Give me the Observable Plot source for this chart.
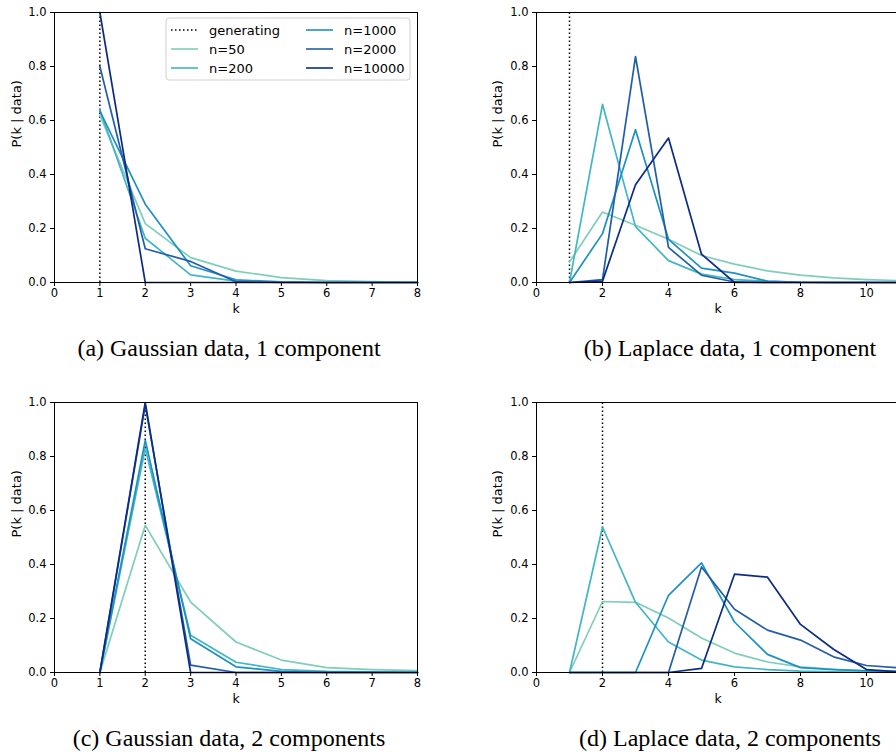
<!DOCTYPE html>
<html><head><meta charset="utf-8">
<script src="https://cdn.jsdelivr.net/npm/d3@7"></script>
<script src="https://cdn.jsdelivr.net/npm/@observablehq/plot@0.6"></script>
<style>
body{margin:0;background:#fff;}
#root{position:relative;width:896px;height:752px;overflow:hidden;background:#fff;}
.panel{position:absolute;}
.caption{position:absolute;font-family:"Liberation Serif","Times New Roman",serif;font-size:24px;line-height:24px;color:#000;white-space:nowrap;transform:translateX(-50%);}
.legend{position:absolute;}
</style></head><body><div id="root"></div><script>
const seriesNames = ["n=50", "n=200", "n=1000", "n=2000", "n=10000"];
const seriesColors = ["#7fcdbb", "#41b6c4", "#1d91c0", "#225ea8", "#0c2c84"];
const kGauss = [1, 2, 3, 4, 5, 6, 7, 8];
const kLaplace = [1, 2, 3, 4, 5, 6, 7, 8, 9, 10, 11];
const xTicksGauss = [0, 1, 2, 3, 4, 5, 6, 7, 8];
const xTicksLaplace = [0, 2, 4, 6, 8, 10];
const yTicks = [0, 0.2, 0.4, 0.6, 0.8, 1.0];
const captions = ["(a) Gaussian data, 1 component", "(b) Laplace data, 1 component", "(c) Gaussian data, 2 components", "(d) Laplace data, 2 components"];
const generating = [1, 1, 2, 2];

// panel (a): Gaussian data, 1 component; rows = n=50, 200, 1000, 2000, 10000
const gauss1 = [
  [0.62, 0.218, 0.092, 0.042, 0.018, 0.007, 0.003, 0.001],
  [0.64, 0.164, 0.028, 0.005, 0.001, 0, 0, 0],
  [0.635, 0.29, 0.062, 0.01, 0.002, 0, 0, 0],
  [0.80, 0.125, 0.078, 0.003, 0, 0, 0, 0],
  [1.0, 0, 0, 0, 0, 0, 0, 0]
];
// panel (b): Laplace data, 1 component
const laplace1 = [
  [0.076, 0.261, 0.212, 0.16, 0.10, 0.068, 0.043, 0.027, 0.017, 0.011, 0.007],
  [0, 0.66, 0.207, 0.081, 0.031, 0.011, 0.004, 0.001, 0, 0, 0],
  [0, 0.181, 0.566, 0.16, 0.053, 0.035, 0.005, 0.001, 0, 0, 0],
  [0, 0.011, 0.837, 0.13, 0.027, 0.002, 0, 0, 0, 0, 0],
  [0, 0.005, 0.362, 0.535, 0.105, 0, 0, 0, 0, 0, 0]
];
// panel (c): Gaussian data, 2 components
const gauss2 = [
  [0, 0.545, 0.261, 0.113, 0.046, 0.018, 0.011, 0.007],
  [0, 0.83, 0.138, 0.038, 0.011, 0.004, 0.002, 0.001],
  [0, 0.86, 0.125, 0.021, 0.004, 0, 0, 0],
  [0, 0.99, 0.027, 0, 0, 0, 0, 0],
  [0, 1.0, 0, 0, 0, 0, 0, 0]
];
// panel (d): Laplace data, 2 components
const laplace2 = [
  [0, 0.263, 0.26, 0.202, 0.128, 0.072, 0.039, 0.021, 0.012, 0.006, 0.004],
  [0, 0.539, 0.26, 0.113, 0.046, 0.021, 0.011, 0.005, 0.002, 0.001, 0.001],
  [0, 0, 0, 0.286, 0.406, 0.187, 0.067, 0.018, 0.011, 0.006, 0.003],
  [0, 0, 0, 0, 0.391, 0.234, 0.157, 0.12, 0.058, 0.026, 0.017],
  [0, 0, 0, 0, 0.015, 0.364, 0.353, 0.178, 0.086, 0.011, 0.002]
];

const root = document.getElementById("root");
const font = "'DejaVu Sans', sans-serif";

function makePanel({ks, series, gen, xDomain, xTicks, left, top, marginLeft, width, yLabelDx}) {
  const rows = [];
  series.forEach((vals, i) => vals.forEach((v, j) => rows.push({k: ks[j], p: v, s: seriesNames[i]})));
  const chart = Plot.plot({
    width, height: 320,
    marginLeft, marginRight: width - marginLeft - 363, marginTop: 12, marginBottom: 38,
    x: {domain: xDomain},
    y: {domain: [0, 1]},
    color: {domain: seriesNames, range: seriesColors},
    style: {fontFamily: font, fontSize: "11.5px", color: "#000", background: "transparent", overflow: "visible"},
    marks: [
      Plot.ruleX([gen], {y1: 0, y2: 1, stroke: "#000", strokeWidth: 1.5, strokeDasharray: "1.5,2.5"}),
      Plot.line(rows, {x: "k", y: "p", z: "s", stroke: "s", strokeWidth: 1.7}),
      Plot.frame({stroke: "#000", strokeWidth: 1}),
      Plot.axisX({ticks: xTicks, tickSize: 4, tickPadding: 2, label: null, stroke: "#000", fill: "#000", fontSize: 11.5}),
      Plot.axisY({ticks: yTicks, tickFormat: d3.format(".1f"), tickSize: 4, tickPadding: 4, label: null, stroke: "#000", fill: "#000", fontSize: 11.5}),
      Plot.text(["k"], {frameAnchor: "bottom", dy: 30, fontSize: 12.5, fill: "#000"}),
      Plot.text(["P(k | data)"], {frameAnchor: "left", dx: yLabelDx, rotate: -90, fontSize: 13, fill: "#000"})
    ]
  });
  chart.classList.add("panel");
  chart.style.left = left + "px";
  chart.style.top = top + "px";
  root.appendChild(chart);
}

makePanel({ks: kGauss, series: gauss1, gen: generating[0], xDomain: [0, 8], xTicks: xTicksGauss, left: 0, top: 0, marginLeft: 54, width: 448, yLabelDx: -37.5});
makePanel({ks: kLaplace, series: laplace1, gen: generating[1], xDomain: [0, 11], xTicks: xTicksLaplace, left: 448, top: 0, marginLeft: 88, width: 451, yLabelDx: -39});
makePanel({ks: kGauss, series: gauss2, gen: generating[2], xDomain: [0, 8], xTicks: xTicksGauss, left: 0, top: 390, marginLeft: 54, width: 448, yLabelDx: -37.5});
makePanel({ks: kLaplace, series: laplace2, gen: generating[3], xDomain: [0, 11], xTicks: xTicksLaplace, left: 448, top: 390, marginLeft: 88, width: 451, yLabelDx: -39});

// captions
const capPos = [[229, 336], [730, 336], [229, 726], [730, 726]];
captions.forEach((c, i) => {
  const d = document.createElement("div");
  d.className = "caption";
  d.textContent = c;
  d.style.left = capPos[i][0] + "px";
  d.style.top = capPos[i][1] + "px";
  root.appendChild(d);
});

// legend inside panel (a)
const legendItems = [{name: "generating", color: "#000", dash: "1.5,2.5"}]
  .concat(seriesNames.map((n, i) => ({name: n, color: seriesColors[i], dash: null})));
const leg = d3.create("svg").attr("class", "legend").attr("width", 246).attr("height", 64)
  .style("left", "165px").style("top", "17px");
leg.append("rect").attr("x", 1).attr("y", 1).attr("width", 244).attr("height", 62).attr("rx", 3)
  .attr("fill", "rgba(255,255,255,0.8)").attr("stroke", "#d0d0d0").attr("stroke-width", 1);
legendItems.forEach((it, i) => {
  const col = Math.floor(i / 3), row = i % 3;
  const x0 = 6 + col * 135, y = 13 + row * 19;
  leg.append("line").attr("x1", x0).attr("x2", x0 + 27).attr("y1", y).attr("y2", y)
    .attr("stroke", it.color).attr("stroke-width", 1.6).attr("stroke-dasharray", it.dash);
  leg.append("text").attr("x", x0 + 38).attr("y", y).attr("dy", "0.35em")
    .attr("font-family", font).attr("font-size", 13).attr("fill", "#000").text(it.name);
});
root.appendChild(leg.node());
</script></body></html>
